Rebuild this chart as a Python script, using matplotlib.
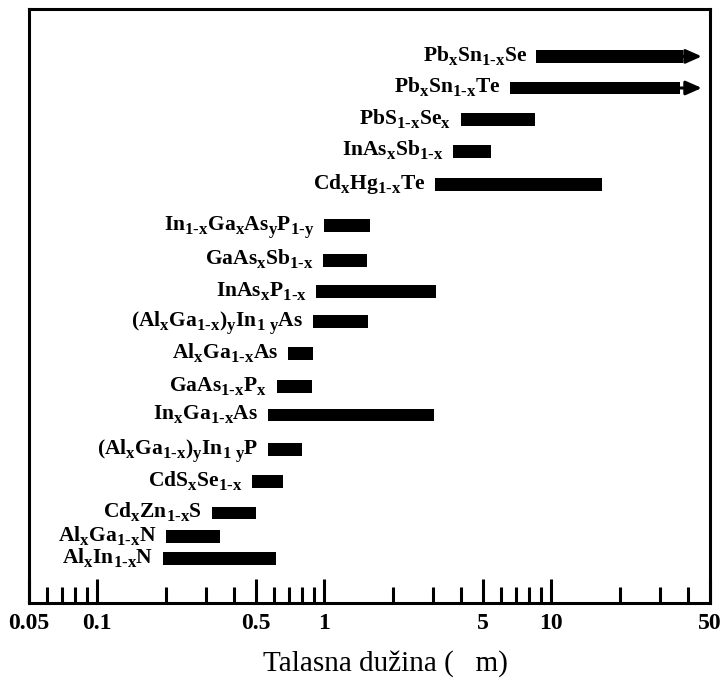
import matplotlib
matplotlib.use('Agg')
import matplotlib.pyplot as plt
from matplotlib import _mathtext
from matplotlib.ticker import NullFormatter

plt.rcParams['font.family'] = 'Liberation Serif'
plt.rcParams['mathtext.fontset'] = 'custom'
plt.rcParams['mathtext.rm'] = 'Liberation Serif:bold'
plt.rcParams['mathtext.bf'] = 'Liberation Serif:bold'
plt.rcParams['mathtext.it'] = 'Liberation Serif:bold'
# veci i nizi indeksi
_mathtext.SHRINK_FACTOR = 0.78
_mathtext.FontConstantsBase.sub1 = 0.42

# legure i opseg talasnih duzina (um), od vrha ka dnu
names = [
    r'Pb_xSn_{1-x}Se', r'Pb_xSn_{1-x}Te', r'PbS_{1-x}Se_x', r'InAs_xSb_{1-x}',
    r'Cd_xHg_{1-x}Te', r'In_{1-x}Ga_xAs_yP_{1-y}', r'GaAs_xSb_{1-x}',
    r'InAs_xP_{1-x}', r'(Al_xGa_{1-x})_yIn_{1\ y}As', r'Al_xGa_{1-x}As',
    r'GaAs_{1-x}P_x', r'In_xGa_{1-x}As', r'(Al_xGa_{1-x})_yIn_{1\ y}P',
    r'CdS_xSe_{1-x}', r'Cd_xZn_{1-x}S', r'Al_xGa_{1-x}N', r'Al_xIn_{1-x}N',
]
lam_min = [8.6, 6.6, 4.0, 3.7, 3.07, 1.0, 0.99, 0.92, 0.89, 0.69,
           0.62, 0.565, 0.565, 0.48, 0.32, 0.2, 0.195]
lam_max = [38, 37, 8.5, 5.4, 16.7, 1.59, 1.54, 3.1, 1.56, 0.89,
           0.88, 3.04, 0.80, 0.66, 0.50, 0.347, 0.61]
# legure ciji opseg ide dalje (strelica)
open_ended = [True, True] + [False] * 15
arrow_to = 46

# raspored redova (odozdo)
row_y = [17.3, 16.3, 15.3, 14.3, 13.25, 11.95, 10.85, 9.85, 8.9, 7.9,
         6.85, 5.95, 4.85, 3.85, 2.85, 2.1, 1.4]

tick_vals = [0.05, 0.1, 0.5, 1, 5, 10, 50]
tick_text = ['0.05', '0.1', '0.5', '1', '5', '10', '50']
minor_vals = [0.06, 0.07, 0.08, 0.09, 0.2, 0.3, 0.4, 0.6, 0.7, 0.8, 0.9,
              2, 3, 4, 6, 7, 8, 9, 20, 30, 40]

fig = plt.figure(figsize=(7.25, 6.87), dpi=100)
ax = fig.add_axes([29 / 725, 84 / 687, 681 / 725, 594 / 687])
ax.set_xscale('log')
ax.set_xlim(0.05, 50)
ax.set_ylim(0, 18.8)

widths = [b - a for a, b in zip(lam_min, lam_max)]
ax.barh(row_y, widths, left=lam_min, height=0.4, color='black')

for name, a, b, y, arr in zip(names, lam_min, lam_max, row_y, open_ended):
    label = r'$\mathrm{' + name.replace('-', r'\text{-}') + '}$'
    ax.annotate(label, xy=(a, y), xytext=(-7, -3.6), textcoords='offset points',
                ha='right', va='baseline', fontsize=15.5)
    if arr:
        ax.annotate('', xy=(arrow_to, y), xytext=(b, y),
                    arrowprops=dict(arrowstyle='-|>,head_length=0.95,head_width=0.42',
                                    lw=2.2, color='black', shrinkA=0, shrinkB=0,
                                    mutation_scale=10))

ax.set_xticks(tick_vals)
ax.set_xticklabels(tick_text)
ax.set_xticks(minor_vals, minor=True)
ax.xaxis.set_minor_formatter(NullFormatter())
ax.tick_params(axis='x', which='major', direction='in', length=17, width=2.2,
               pad=7, labelsize=17)
ax.tick_params(axis='x', which='minor', direction='in', length=11.5, width=2.2)
for lbl in ax.get_xticklabels():
    lbl.set_fontweight('bold')
ax.set_yticks([])
for sp in ax.spines.values():
    sp.set_linewidth(2.2)

fig.text(385 / 725, 1 - 664 / 687, 'Talasna dužina (   m)', ha='center', va='center',
         fontsize=21)

fig.savefig('out.png', dpi=100)
